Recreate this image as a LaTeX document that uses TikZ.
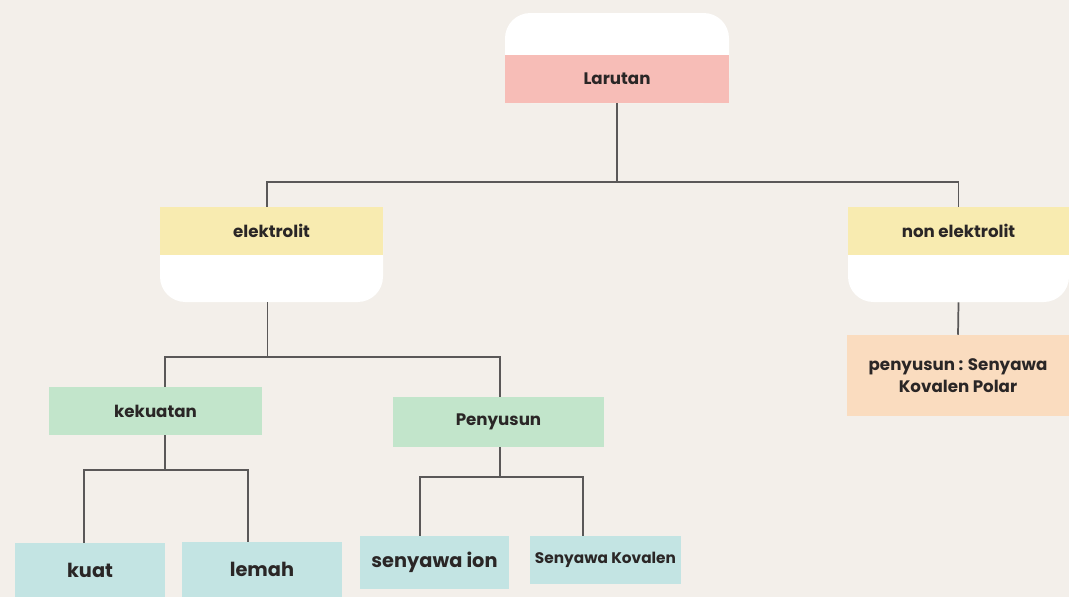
\documentclass[tikz,border=0pt]{standalone}
\usepackage{fontspec}
\setmainfont{Poppins}
\usetikzlibrary{positioning}

\definecolor{bgcream}{HTML}{F3EFEA}
\definecolor{pinkbox}{HTML}{F7BDB7}
\definecolor{yellowbox}{HTML}{F8EBB0}
\definecolor{orangebox}{HTML}{FADCBF}
\definecolor{greenbox}{HTML}{C2E5CB}
\definecolor{bluebox}{HTML}{C3E4E3}
\definecolor{linegray}{HTML}{5A5858}
\definecolor{textdark}{HTML}{2A2626}

\tikzset{
    box/.style={rectangle, inner sep=0pt, align=center, text=textdark,
        font=\fontsize{12.5}{17}\selectfont\bfseries},
    tab/.style={rectangle, rounded corners=19pt, fill=white, inner sep=0pt},
    link/.style={draw=linegray, line width=1.3pt}
}

\begin{document}
\begin{tikzpicture}[x=0.75pt, y=-0.75pt]

    \fill[bgcream] (0,0) rectangle (1069,597);
    \useasboundingbox (0,0) rectangle (1069,597);

    % root
    \node[tab, minimum width=224*0.75pt, minimum height=90*0.75pt] (larbg) at (617,58) {};
    \node[box, fill=pinkbox, minimum width=224*0.75pt, minimum height=48*0.75pt] (lar) at (617,79) {Larutan};

    % second level
    \node[tab, minimum width=223*0.75pt, minimum height=95*0.75pt] (elkbg) at (271.5,254.5) {};
    \node[box, fill=yellowbox, minimum width=223*0.75pt, minimum height=48*0.75pt] (elk) at (271.5,231) {elektrolit};
    \node[tab, minimum width=221*0.75pt, minimum height=95*0.75pt] (nonbg) at (958.5,254.5) {};
    \node[box, fill=yellowbox, minimum width=221*0.75pt, minimum height=48*0.75pt] (non) at (958.5,231) {non elektrolit};

    \node[box, fill=orangebox, minimum width=222*0.75pt, minimum height=81*0.75pt] (nonsus) at (958,375.5) {penyusun : Senyawa\\Kovalen Polar};

    % third level
    \node[box, fill=greenbox, minimum width=213*0.75pt, minimum height=48*0.75pt] (kek) at (155.5,411) {kekuatan};
    \node[box, fill=greenbox, minimum width=211*0.75pt, minimum height=50*0.75pt] (sus) at (498.5,422) {Penyusun};

    % leaves
    \node[box, fill=bluebox, minimum width=150*0.75pt, minimum height=54*0.75pt, font=\fontsize{14.5}{17}\selectfont\bfseries] (kuat) at (90,570) {kuat};
    \node[box, fill=bluebox, minimum width=160*0.75pt, minimum height=55*0.75pt, font=\fontsize{14.5}{17}\selectfont\bfseries] (lemah) at (262,569.5) {lemah};
    \node[box, fill=bluebox, minimum width=149*0.75pt, minimum height=53*0.75pt, font=\fontsize{14.5}{17}\selectfont\bfseries] (ion) at (434.5,562.5) {senyawa ion};
    \node[box, fill=bluebox, minimum width=151*0.75pt, minimum height=48*0.75pt, font=\fontsize{11.5}{14}\selectfont\bfseries] (kov) at (605.5,560) {Senyawa Kovalen};

    % connectors
    \draw[link] (lar.south) -- ++(0,79) coordinate (bus) -| ([xshift=-3.5pt]elk.north);
    \draw[link] (bus) -| (non.north);
    \draw[link] (nonbg.south) -- (nonsus.north);
    \draw[link] ([xshift=-3pt]elkbg.south) -- ++(0,55) coordinate (elkbus) -| ([xshift=7pt]kek.north);
    \draw[link] (elkbus) -| ([xshift=1pt]sus.north);
    \draw[link] ([xshift=7pt]kek.south) -- ++(0,35) coordinate (kekbus) -| ([xshift=-4.5pt]kuat.north);
    \draw[link] (kekbus) -| ([xshift=-10.5pt]lemah.north);
    \draw[link] ([xshift=1pt]sus.south) -- ++(0,30) coordinate (susbus) -| ([xshift=-11pt]ion.north);
    \draw[link] (susbus) -| ([xshift=-17pt]kov.north);

\end{tikzpicture}
\end{document}
